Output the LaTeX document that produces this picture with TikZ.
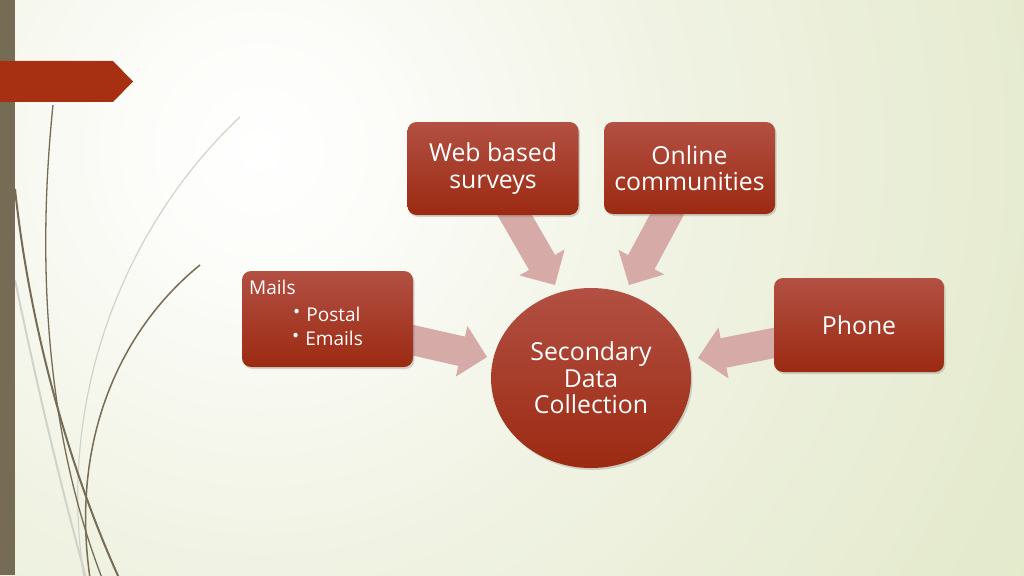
\documentclass[tikz,border=0pt]{standalone}
\usepackage{fontspec}
\setmainfont{Open Sans}
\usetikzlibrary{calc,shapes.geometric,shadows}
\pgfdeclarelayer{bgl}
\pgfdeclarelayer{arr}
\pgfsetlayers{bgl,arr,main}
\definecolor{bgc}{RGB}{222,230,196}
\definecolor{gfar}{RGB}{228,234,205}
\definecolor{gmid}{RGB}{240,243,227}
\definecolor{gnear}{RGB}{252,252,249}
\definecolor{barc}{RGB}{118,108,86}
\definecolor{bannerc}{RGB}{166,48,17}
\definecolor{boxtop}{RGB}{178,80,67}
\definecolor{boxbot}{RGB}{156,42,18}
\definecolor{arrowc}{RGB}{213,170,167}
\definecolor{faintc}{RGB}{210,211,200}
\pgfdeclareradialshading{glow}{\pgfpoint{0bp}{0bp}}{color(0bp)=(white); color(4bp)=(gnear); color(13bp)=(gmid); color(26bp)=(gfar); color(40bp)=(bgc); color(50bp)=(bgc)}
\newcommand\blockarrow[3]{%
  \coordinate (#3c) at ($(#2)!26pt!(#1)$);
  \fill[arrowc] ($(#1)!15pt!90:(#2)$) -- ($(#3c)!15pt!-90:(#1)$) -- ($(#3c)!26pt!-90:(#1)$) -- (#2)
    -- ($(#3c)!26pt!90:(#1)$) -- ($(#3c)!15pt!90:(#1)$) -- ($(#1)!15pt!-90:(#2)$) -- cycle;}
\tikzset{
  redbox/.style={rectangle, rounded corners=9pt, top color=boxtop, bottom color=boxbot, draw=none,
    text=white, align=center, inner sep=0pt, font=\fontsize{24.8}{26.5}\selectfont,
    drop shadow={shadow xshift=1.5pt, shadow yshift=-2pt, opacity=0.25, fill=black!60}},
  smalltext/.style={text=white, inner sep=0pt, font=\fontsize{19}{22}\selectfont},
  darkcurve/.style={draw=barc, line width=1.6pt},
  faintcurve/.style={draw=faintc, line width=1.2pt}
}
\begin{document}
\begin{tikzpicture}[x=1pt,y=-1pt]
\useasboundingbox (0,0) rectangle (1024,575);
% nodes
\node[redbox, minimum width=171pt, minimum height=93pt] (web) at (493,168.5) {Web based\\surveys};
\node[redbox, minimum width=171pt, minimum height=92pt] (online) at (689.5,168) {Online\\communities};
\node[redbox, minimum width=171pt, minimum height=96pt] (mails) at (327.5,319) {};
\node[redbox, minimum width=170pt, minimum height=94pt] (phone) at (859,325) {Phone};
\node[redbox, ellipse, minimum width=200pt, minimum height=180pt] (sdc) at (591,378) {Secondary\\Data\\Collection};
\node[smalltext, anchor=base west] (mailst) at (249,294) {Mails};
\node[smalltext, anchor=base west] (postal) at (293,321) {{\fontsize{19}{19}\selectfont\raisebox{3pt}{•}}\hspace{6pt}Postal};
\node[smalltext, anchor=base west] (emails) at (292,345) {{\fontsize{19}{19}\selectfont\raisebox{3pt}{•}}\hspace{6pt}Emails};
% connector ends
\coordinate (wa) at ($(web.south)+(16,-10)$);
\coordinate (wt) at (555,285);
\coordinate (oa) at ($(online.south)+(-17,-10)$);
\coordinate (ot) at (629,285);
\coordinate (pa) at ($(phone.west)+(10,16)$);
\coordinate (pt) at (698,358);
\coordinate (ma) at ($(mails.east)+(-10,19)$);
\coordinate (mt) at (487,357);
\begin{pgfonlayer}{arr}
\blockarrow{wa}{wt}{w}
\blockarrow{oa}{ot}{o}
\blockarrow{pa}{pt}{p}
\blockarrow{ma}{mt}{m}
\end{pgfonlayer}
\begin{pgfonlayer}{bgl}
\begin{scope}
\clip (0,0) rectangle (1024,575);
\shade[shading=glow] (-540,-650) rectangle (1060,950);
% curves
\draw[faintcurve] (240,117) .. controls (130,220) and (55,390) .. (84,578);
\draw[faintcurve, line width=2pt] (15,280) .. controls (40,400) and (62,490) .. (86,578);
\draw[darkcurve, line width=1.3pt] (53,105) .. controls (37,260) and (45,430) .. (102,578);
\draw[darkcurve, line width=2pt] (15,189) .. controls (30,330) and (70,470) .. (119,578);
\draw[darkcurve, line width=1.5pt] (200,265) .. controls (120,330) and (70,440) .. (90,578);
% left bar and banner
\fill[barc] (0,0) rectangle (15,575);
\fill[bannerc] (0,61) -- (113,61) -- (133,81.5) -- (113,102) -- (0,102) -- cycle;
\end{scope}
\end{pgfonlayer}
\end{tikzpicture}
\end{document}
